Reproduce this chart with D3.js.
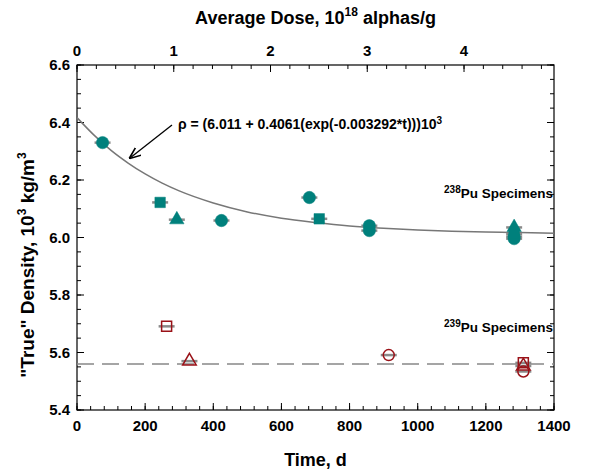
<!DOCTYPE html>
<html>
<head>
<meta charset="utf-8">
<script src="https://cdn.jsdelivr.net/npm/d3@7"></script>
<style>
  body { margin: 0; background: #fff; }
  text { font-family: "Liberation Sans", Arial, sans-serif; font-weight: bold; fill: #000; }
</style>
</head>
<body>
<div id="chart"></div>
<script>
// 238Pu specimens (filled teal)
const pu238Circles = [[75, 6.330], [424, 6.059], [682, 6.139], [858, 6.041], [858, 6.024], [1283, 6.003], [1283, 5.996]];
const pu238Squares = [[244, 6.122], [711, 6.065], [1283, 6.012]];
const pu238Triangles = [[293, 6.062], [1283, 6.035]];

// 239Pu specimens (open dark red)
const pu239Circles = [[915, 5.591], [1310, 5.534]];
const pu239Squares = [[263, 5.691], [1310, 5.564]];
const pu239Triangles = [[330, 5.570], [1310, 5.553]];

// fit curve
const fitTime = [0, 50, 100, 150, 200, 250, 300, 400, 500, 600, 700, 800, 900, 1000, 1100, 1200, 1300, 1400];
const fitDensity = [6.417, 6.356, 6.303, 6.259, 6.221, 6.189, 6.162, 6.120, 6.089, 6.067, 6.052, 6.040, 6.032, 6.026, 6.022, 6.019, 6.017, 6.015];

const pu239Level = 5.56;

const xTicks = [0, 200, 400, 600, 800, 1000, 1200, 1400];
const yTicks = [5.4, 5.6, 5.8, 6.0, 6.2, 6.4, 6.6];
const doseTicks = [0, 1, 2, 3, 4];
const doseMax = 4.93;

const margin = {top: 65, right: 44, bottom: 64, left: 77};
const width = 598 - margin.left - margin.right;
const height = 474 - margin.top - margin.bottom;

const svg = d3.select("#chart")
    .append("svg")
    .attr("width", width + margin.left + margin.right)
    .attr("height", height + margin.top + margin.bottom)
    .append("g")
    .attr("transform", `translate(${margin.left}, ${margin.top})`);

const x = d3.scaleLinear().domain([0, 1400]).range([0, width]);
const y = d3.scaleLinear().domain([5.4, 6.6]).range([height, 0]);
const xDose = d3.scaleLinear().domain([0, doseMax]).range([0, width]);

const teal = "#00807c";
const red = "#9a1218";

// inward ticks on all four sides
function sideTicks(g, scale, step, lo, hi, orient, len) {
    const vals = d3.range(lo, hi + step / 2, step);
    vals.forEach(v => {
        const p = scale(v);
        if (orient === "bottom") g.append("line").attr("x1", p).attr("x2", p).attr("y1", height).attr("y2", height - len);
        if (orient === "top") g.append("line").attr("x1", p).attr("x2", p).attr("y1", 0).attr("y2", len);
        if (orient === "left") g.append("line").attr("y1", p).attr("y2", p).attr("x1", 0).attr("x2", len);
        if (orient === "right") g.append("line").attr("y1", p).attr("y2", p).attr("x1", width).attr("x2", width - len);
    });
}

const ticksG = svg.append("g").attr("stroke", "#000").attr("stroke-width", 1);
sideTicks(ticksG, x, 40, 0, 1400, "bottom", 4);
sideTicks(ticksG, x, 200, 0, 1400, "bottom", 7);
sideTicks(ticksG, xDose, 0.2, 0, 4.8, "top", 4);
sideTicks(ticksG, xDose, 1, 0, 4, "top", 7);
sideTicks(ticksG, y, 0.05, 5.4, 6.6, "left", 4);
sideTicks(ticksG, y, 0.2, 5.4, 6.6, "left", 7);
sideTicks(ticksG, y, 0.05, 5.4, 6.6, "right", 4);
sideTicks(ticksG, y, 0.2, 5.4, 6.6, "right", 7);

// frame
svg.append("rect")
    .attr("width", width).attr("height", height)
    .attr("fill", "none").attr("stroke", "#000").attr("stroke-width", 1.2);

// tick labels
svg.selectAll(".x-label").data(xTicks).enter().append("text")
    .attr("x", d => x(d)).attr("y", height + 21)
    .attr("text-anchor", "middle").attr("font-size", 15)
    .text(d => d);

svg.selectAll(".dose-label").data(doseTicks).enter().append("text")
    .attr("x", d => xDose(d)).attr("y", -9)
    .attr("text-anchor", "middle").attr("font-size", 15)
    .text(d => d);

svg.selectAll(".y-label").data(yTicks).enter().append("text")
    .attr("x", -7).attr("y", d => y(d)).attr("dy", "0.36em")
    .attr("text-anchor", "end").attr("font-size", 15)
    .text(d => d3.format(".1f")(d));

// axis titles
svg.append("text")
    .attr("x", width / 2).attr("y", height + 56)
    .attr("text-anchor", "middle").attr("font-size", 18)
    .text("Time, d");

const topTitle = svg.append("text")
    .attr("x", width / 2).attr("y", -41)
    .attr("text-anchor", "middle").attr("font-size", 18);
topTitle.append("tspan").text("Average Dose, 10");
topTitle.append("tspan").attr("font-size", 12).attr("dy", -8).text("18");
topTitle.append("tspan").attr("dy", 8).text(" alphas/g");

const yTitle = svg.append("text")
    .attr("transform", `translate(-43, 200) rotate(-90)`)
    .attr("text-anchor", "middle").attr("font-size", 19);
yTitle.append("tspan").text("\"True\" Density, 10");
yTitle.append("tspan").attr("font-size", 12).attr("dy", -8).text("3");
yTitle.append("tspan").attr("dy", 8).text(" kg/m");
yTitle.append("tspan").attr("font-size", 12).attr("dy", -8).text("3");

// fit curve
const fitData = fitTime.map((t, i) => [t, fitDensity[i]]);
svg.append("path")
    .datum(fitData)
    .attr("fill", "none").attr("stroke", "#777").attr("stroke-width", 1.5)
    .attr("d", d3.line().x(d => x(d[0])).y(d => y(d[1])).curve(d3.curveMonotoneX));

// 239Pu reference level
svg.append("line")
    .attr("x1", x(0)).attr("x2", x(1400))
    .attr("y1", y(pu239Level)).attr("y2", y(pu239Level))
    .attr("stroke", "#888").attr("stroke-width", 1.5).attr("stroke-dasharray", "17,8");

// error bars
const allPoints = [].concat(pu238Circles, pu238Squares, pu238Triangles, pu239Circles, pu239Squares, pu239Triangles);
svg.selectAll(".err").data(allPoints).enter().append("line")
    .attr("x1", d => x(d[0]) - 8).attr("x2", d => x(d[0]) + 8)
    .attr("y1", d => y(d[1])).attr("y2", d => y(d[1]))
    .attr("stroke", "#8a8a8a").attr("stroke-width", 2.5);

function drawMarkers(data, type, size, filled, color) {
    svg.append("g").selectAll("path").data(data).enter().append("path")
        .attr("transform", d => `translate(${x(d[0])}, ${y(d[1])})`)
        .attr("d", d3.symbol().type(type).size(size))
        .attr("fill", filled ? color : "none")
        .attr("stroke", color).attr("stroke-width", filled ? 0.5 : 1.5);
}

drawMarkers(pu238Circles, d3.symbolCircle, 120, true, teal);
drawMarkers(pu238Squares, d3.symbolSquare, 110, true, teal);
drawMarkers(pu238Triangles, d3.symbolTriangle, 90, true, teal);
drawMarkers(pu239Circles, d3.symbolCircle, 95, false, red);
drawMarkers(pu239Squares, d3.symbolSquare, 100, false, red);
drawMarkers(pu239Triangles, d3.symbolTriangle, 80, false, red);

// annotations
const eq = svg.append("text")
    .attr("x", 101).attr("y", 64).attr("font-size", 14);
eq.append("tspan").text("\u03c1 = (6.011 + 0.4061(exp(-0.003292*t)))10");
eq.append("tspan").attr("font-size", 10).attr("dy", -5).text("3");

svg.append("defs").append("marker")
    .attr("id", "arrow").attr("viewBox", "0 0 10 10")
    .attr("refX", 9).attr("refY", 5)
    .attr("markerWidth", 9).attr("markerHeight", 9)
    .attr("orient", "auto")
    .append("path").attr("d", "M0,1 L10,5 L0,9").attr("fill", "none").attr("stroke", "#000").attr("stroke-width", 1.4);

svg.append("line")
    .attr("x1", 95).attr("y1", 60).attr("x2", 53).attr("y2", 93)
    .attr("stroke", "#000").attr("stroke-width", 1.3)
    .attr("marker-end", "url(#arrow)");

function specimenLabel(iso, yPos) {
    const t = svg.append("text").attr("x", 476).attr("y", yPos)
        .attr("text-anchor", "end").attr("font-size", 13.5);
    t.append("tspan").attr("font-size", 10).attr("dy", -5).text(iso);
    t.append("tspan").attr("dy", 5).text("Pu Specimens");
}
specimenLabel("238", 133);
specimenLabel("239", 267);
</script>
</body>
</html>
